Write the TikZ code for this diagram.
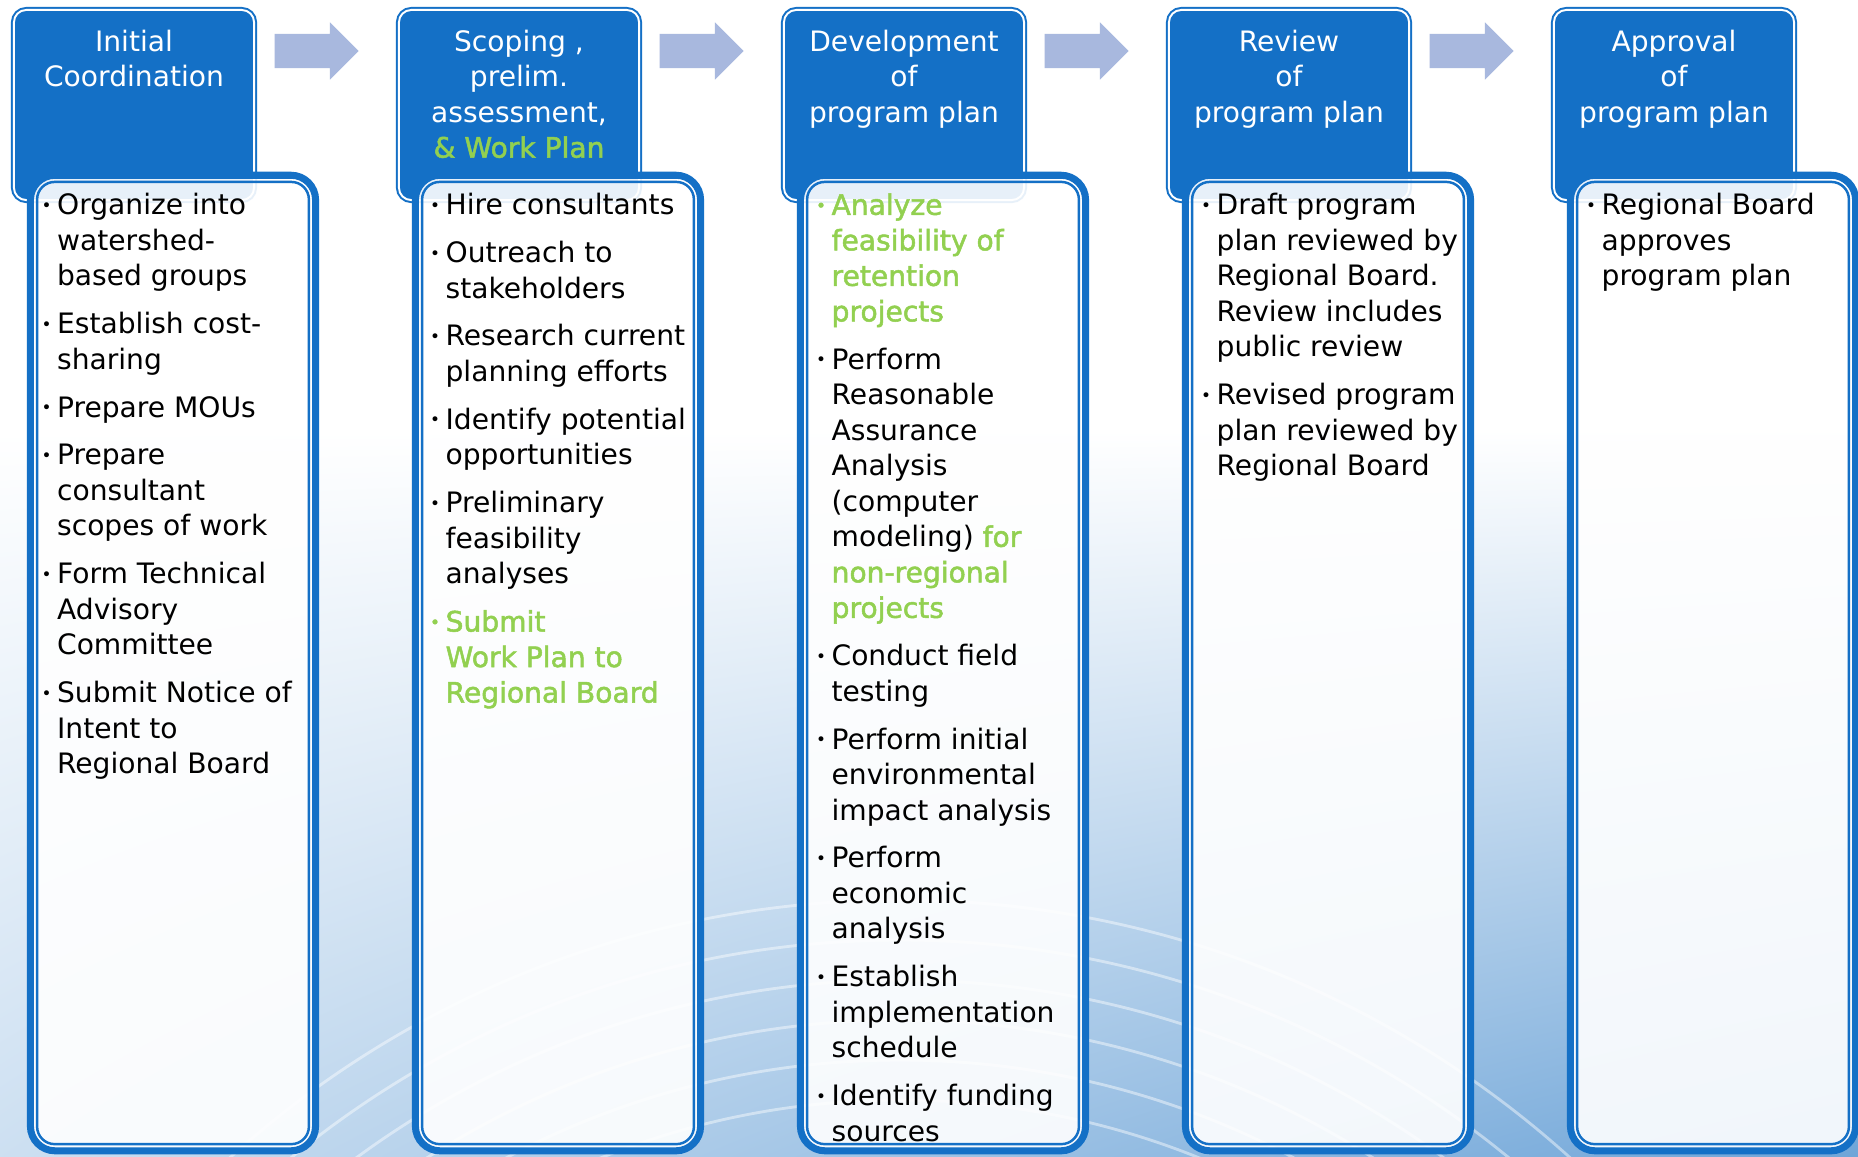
\documentclass[tikz,border=0pt]{standalone}
\usepackage{graphicx}
\usepackage{fontspec}
\setmainfont{DejaVu Sans}
\newfontfamily\glowfont{DejaVu Sans}[FakeBold=1.8]
\usetikzlibrary{shapes.arrows, shadings}
\definecolor{hblue}{RGB}{20,112,198}
\definecolor{leaf}{RGB}{146,208,80}
\definecolor{flow}{RGB}{168,184,222}
\definecolor{sky}{RGB}{111,165,216}
\newcommand\itm{\llap{\raisebox{.12em}{\scalebox{.6}{\textbullet}}\hspace{1.6pt}}}
\newcommand\grn[1]{{\color{leaf}\glowfont #1}}
\newcommand\nxt{\\[3.5pt]}

\begin{document}
\begin{tikzpicture}[x=.01cm, y=-.01cm, font=\fontsize{8}{10.1}\selectfont,
  head/.style={fill=hblue, draw=white, line width=.55pt, rounded corners=3.5pt,
    preaction={draw=hblue, line width=1.7pt}, minimum width=2.4cm, minimum height=1.9cm},
  body/.style={fill=white, fill opacity=.9, draw=hblue, line width=2pt,
    rounded corners=7pt, minimum width=2.85cm, minimum height=9.75cm},
  lining/.style={draw=hblue, line width=.7pt, rounded corners=5pt},
  title/.style={anchor=north, align=center, text=white, inner sep=0},
  list/.style={anchor=north west, align=left, inner sep=0},
  flowarrow/.style={single arrow, fill=flow, inner xsep=0, inner ysep=.165cm,
    minimum height=.84cm, single arrow head extend=.115cm},
  wave/.style={draw=white, opacity=.45, line width=.8pt}]
  % backdrop
  \fill[white] (0,0) rectangle (1858,1156);
  \useasboundingbox (0,0) rectangle (1858,1156);
  \shade[upper left=white, upper right=white, lower left=sky!35!white, lower right=sky]
    (0,430) rectangle (1858,1156);
  \foreach \r in {800,840,...,1000} \draw[wave] (900,1900) circle[radius=\r];

  % stages
  \foreach \i [evaluate={\x=385*\i;}] in {0,...,4} {
    \node[head] (h\i) at (134+\x,105) {};
    \node[body] (b\i) at (173+\x,663) {};
    \draw[lining] ([xshift=2.9pt,yshift=-2.9pt]b\i.north west) rectangle
      ([xshift=-2.9pt,yshift=2.9pt]b\i.south east);
  }
  \foreach \i [evaluate={\x=385*\i;}] in {0,...,3}
    \node[flowarrow] (a\i) at (308+\x,51) {};

  % titles
  \node[title] (t0) at ([yshift=-.2cm]h0.north) {Initial\\Coordination};
  \node[title] (t1) at ([yshift=-.2cm]h1.north) {Scoping ,\\prelim.\\assessment,\\\grn{\& Work Plan}};
  \node[title] (t2) at ([yshift=-.2cm]h2.north) {Development\\of\\program plan};
  \node[title] (t3) at ([yshift=-.2cm]h3.north) {Review\\of\\program plan};
  \node[title] (t4) at ([yshift=-.2cm]h4.north) {Approval\\of\\program plan};

  % tasks
  \node[list] (l0) at ([xshift=.295cm,yshift=-.21cm]b0.north west) {%
    \itm Organize into\\watershed-\\based groups\nxt
    \itm Establish cost-\\sharing\nxt
    \itm Prepare MOUs\nxt
    \itm Prepare\\consultant\\scopes of work\nxt
    \itm Form Technical\\Advisory\\Committee\nxt
    \itm Submit Notice of\\Intent to\\Regional Board};
  \node[list] (l1) at ([xshift=.33cm,yshift=-.21cm]b1.north west) {%
    \itm Hire consultants\nxt
    \itm Outreach to\\stakeholders\nxt
    \itm Research current\\planning efforts\nxt
    \itm Identify potential\\opportunities\nxt
    \itm Preliminary\\feasibility\\analyses\nxt
    \grn{\itm Submit}\\\grn{Work Plan to}\\\grn{Regional Board}};
  \node[list] (l2) at ([xshift=.34cm,yshift=-.21cm]b2.north west) {%
    \grn{\itm Analyze}\\\grn{feasibility of}\\\grn{retention}\\\grn{projects}\nxt
    \itm Perform\\Reasonable\\Assurance\\Analysis\\(computer\\modeling) \grn{for}\\\grn{non-regional}\\\grn{projects}\nxt
    \itm Conduct field\\testing\nxt
    \itm Perform initial\\environmental\\impact analysis\nxt
    \itm Perform\\economic\\analysis\nxt
    \itm Establish\\implementation\\schedule\nxt
    \itm Identify funding\\sources};
  \node[list] (l3) at ([xshift=.34cm,yshift=-.21cm]b3.north west) {%
    \itm Draft program\\plan reviewed by\\Regional Board.\\Review includes\\public review\nxt
    \itm Revised program\\plan reviewed by\\Regional Board};
  \node[list] (l4) at ([xshift=.34cm,yshift=-.21cm]b4.north west) {%
    \itm Regional Board\\approves\\program plan};
\end{tikzpicture}
\end{document}
